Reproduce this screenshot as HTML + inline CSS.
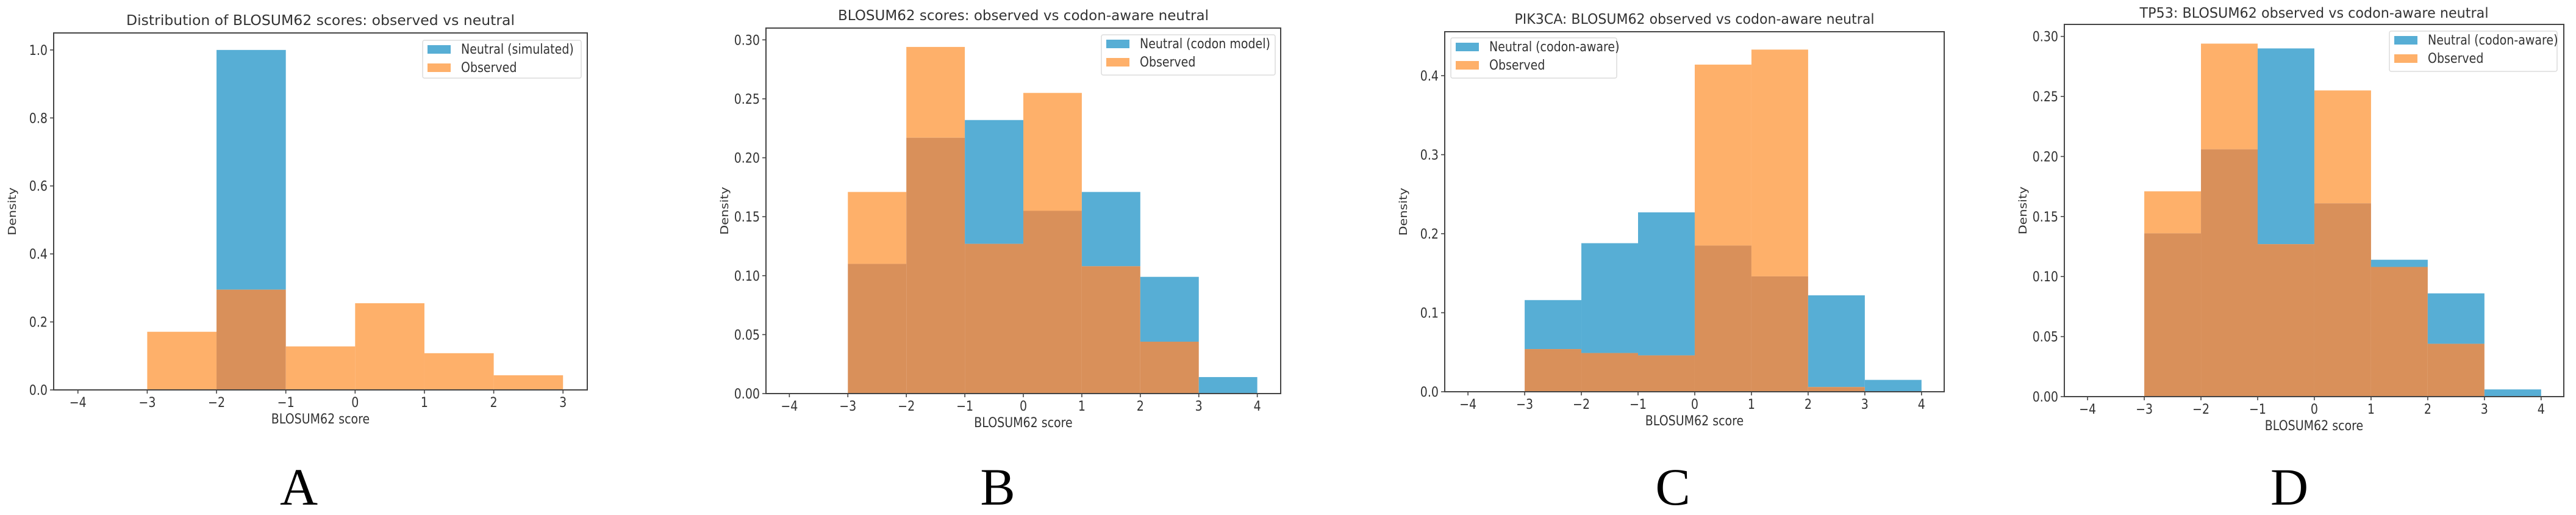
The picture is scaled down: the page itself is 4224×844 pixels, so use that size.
<!DOCTYPE html>
<html><head><meta charset="utf-8">
<style>
html,body{margin:0;padding:0;background:#fff;}
svg{display:block;}
</style></head>
<body>
<svg id="fig" width="4224" height="844" xmlns="http://www.w3.org/2000/svg"></svg>
<script>
// ---- data ----
const binEdges = [-3,-2,-1,0,1,2,3,4];
const aNeutral  = [0, 1.0, 0, 0, 0, 0, 0];
const aObserved = [0.171, 0.295, 0.128, 0.255, 0.108, 0.043, 0];
const bNeutral  = [0.110, 0.217, 0.232, 0.155, 0.171, 0.099, 0.014];
const bObserved = [0.171, 0.294, 0.127, 0.255, 0.108, 0.044, 0];
const cNeutral  = [0.116, 0.188, 0.227, 0.185, 0.146, 0.122, 0.015];
const cObserved = [0.054, 0.049, 0.046, 0.414, 0.433, 0.006, 0];
const dNeutral  = [0.136, 0.206, 0.290, 0.161, 0.114, 0.086, 0.006];
const dObserved = [0.171, 0.294, 0.127, 0.255, 0.108, 0.044, 0];
const aXTicks = [-4,-3,-2,-1,0,1,2,3];
const fullXTicks = [-4,-3,-2,-1,0,1,2,3,4];
const aYTicks = ["0.0","0.2","0.4","0.6","0.8","1.0"];
const bYTicks = ["0.00","0.05","0.10","0.15","0.20","0.25","0.30"];
const cYTicks = ["0.0","0.1","0.2","0.3","0.4"];

const panels = [
 {id:'a', L:88,R:963,T:54,B:639, xmin:-4.35,xmax:3.35, ymax:1.05, neutral:aNeutral, observed:aObserved, xt:aXTicks, yt:aYTicks,
  title:"Distribution of BLOSUM62 scores: observed vs neutral", titleY:41, titleW:637,
  leg:{x:693,y:66,w:260,h:62}, neutralLabel:"Neutral (simulated)", letter:"A", letterX:490},
 {id:'b', L:1256,R:2100,T:46,B:645, xmin:-4.4,xmax:4.4, ymax:0.31, neutral:bNeutral, observed:bObserved, xt:fullXTicks, yt:bYTicks,
  title:"BLOSUM62 scores: observed vs codon-aware neutral", titleY:33, titleW:608,
  leg:{x:1806,y:57,w:285,h:66}, neutralLabel:"Neutral (codon model)", letter:"B", letterX:1636},
 {id:'c', L:2369,R:3188,T:52,B:642, xmin:-4.41,xmax:4.4, ymax:0.4556, neutral:cNeutral, observed:cObserved, xt:fullXTicks, yt:cYTicks,
  title:"PIK3CA: BLOSUM62 observed vs codon-aware neutral", titleY:39, titleW:590,
  leg:{x:2379,y:62,w:272,h:66}, neutralLabel:"Neutral (codon-aware)", letter:"C", letterX:2743},
 {id:'d', L:3385,R:4204,T:40,B:650, xmin:-4.41,xmax:4.4, ymax:0.31, neutral:dNeutral, observed:dObserved, xt:fullXTicks, yt:bYTicks,
  title:"TP53: BLOSUM62 observed vs codon-aware neutral", titleY:29, titleW:572,
  leg:{x:3918,y:51,w:275,h:66}, neutralLabel:"Neutral (codon-aware)", letter:"D", letterX:3754}
];

const NS="http://www.w3.org/2000/svg";
const svg=document.getElementById('fig');
const BLUE="#57aed5", ORANGE="#feb06a", OVER="#d9905a", TXT="#333";
const SY=1.15;
function el(tag,attrs,parent){const e=document.createElementNS(NS,tag);for(const k in attrs)e.setAttribute(k,attrs[k]);(parent||svg).appendChild(e);return e;}
function txt(s,x,y,size,anchor,parent,extra){
  const t=el('text',{x:0,y:0,'font-family':'DejaVu Sans, Liberation Sans, sans-serif','font-size':size,fill:TXT,'text-anchor':anchor||'middle',transform:`translate(${x},${y}) scale(1,${SY})`},parent);
  if(extra)for(const k in extra)t.setAttribute(k,extra[k]);
  t.textContent=s;return t;
}

panels.forEach(p=>{
  const g=el('g',{});
  
  
  const xs=v=>p.L+(v-p.xmin)/(p.xmax-p.xmin)*(p.R-p.L);
  const ys=v=>p.B-v/p.ymax*(p.B-p.T);
  for(let i=0;i<binEdges.length-1;i++){
    const x0=xs(binEdges[i]), x1=xs(binEdges[i+1]);
    const n=p.neutral[i]||0, o=p.observed[i]||0, m=Math.min(n,o);
    if(n>m){const r=el('rect',{x:x0,y:ys(n),width:x1-x0,height:ys(m)-ys(n),fill:BLUE},g);
      
      }
    if(o>m){const r=el('rect',{x:x0,y:ys(o),width:x1-x0,height:ys(m)-ys(o),fill:ORANGE},g);
      
      }
    if(m>0){const r=el('rect',{x:x0,y:ys(m),width:x1-x0,height:ys(0)-ys(m),fill:OVER},g);
      
      }
  }
  const f=el('rect',{x:p.L,y:p.T,width:p.R-p.L,height:p.B-p.T,fill:'none',stroke:'#444','stroke-width':2},g);
  
  
  p.xt.forEach(v=>{
    const x=xs(v);
    el('line',{x1:x,y1:p.B,x2:x,y2:p.B+6,stroke:'#444','stroke-width':1.6},g);
    const t=txt(v<0?'\u2212'+(-v):String(v),x,p.B+28,19,'middle',g);
    
    
  });
  p.yt.forEach(s=>{
    const y=ys(parseFloat(s));
    el('line',{x1:p.L-6,y1:y,x2:p.L,y2:y,stroke:'#444','stroke-width':1.6},g);
    const t=txt(s,p.L-10,y+8,19,'end',g);
    
    
  });
  const tt=txt(p.title,(p.L+p.R)/2,p.titleY,20,'middle',g,{textLength:p.titleW,lengthAdjust:'spacingAndGlyphs'});
  
  
  const xl=txt('BLOSUM62 score',(p.L+p.R)/2,p.B+55,19,'middle',g);
  
  
  const yl=el('text',{x:0,y:0,'font-family':'DejaVu Sans, Liberation Sans, sans-serif','font-size':18,fill:TXT,'text-anchor':'middle',
    transform:`translate(${p.L-62},${(p.T+p.B)/2}) rotate(-90) scale(${SY},1)`},g);
  yl.textContent='Density';
  
  
  const lg=el('g',{},g);
  
  
  const q=p.leg;
  el('rect',{x:q.x,y:q.y,width:q.w,height:q.h,rx:3,fill:'#fff','fill-opacity':0.85,stroke:'#dcdcdc','stroke-width':1.5},lg);
  el('rect',{x:q.x+8,y:q.y+8,width:38,height:14,fill:BLUE},lg);
  el('rect',{x:q.x+8,y:q.y+38,width:38,height:14,fill:ORANGE},lg);
  const l1=txt(p.neutralLabel,q.x+63,q.y+22,19,'start',lg);
  
  
  const l2=txt('Observed',q.x+63,q.y+52,19,'start',lg);
  
  
  const le=el('text',{x:p.letterX,y:827,'font-family':'Liberation Serif, serif','font-size':86,fill:'#000','text-anchor':'middle'},g);
  le.textContent=p.letter;
  
  
});
</script>
</body></html>
